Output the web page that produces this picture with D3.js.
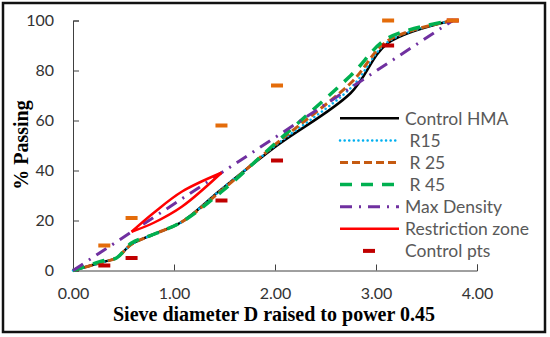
<!DOCTYPE html>
<html>
<head>
<meta charset="utf-8">
<script src="https://cdn.jsdelivr.net/npm/d3@7"></script>
<style>
  body { margin: 0; background: #fff; }
  text { font-family: Lato, "Noto Sans", sans-serif; }
</style>
</head>
<body>
<div id="chart"></div>
<script>
// sieve sizes raised to power 0.45
let sieveX = [0, 0.31, 0.43, 0.58, 0.80, 1.08, 1.47, 2.02, 2.75, 3.12, 3.76]

let controlHMA = [0, 3.5, 5, 10.5, 14.5, 19.5, 32.5, 50, 71, 91, 100]
let r15 = [0, 3.5, 5, 10.5, 14.5, 19.5, 32.5, 50.5, 73, 91.5, 100]
let r25 = [0, 3.5, 5, 10.5, 14.5, 19.5, 32, 51, 75, 92, 100]
let r45 = [0, 4, 5, 11, 14.5, 19.5, 31.5, 51.5, 78, 93, 100]

let maxDensityX = [0, 3.76]
let maxDensity = [0, 100]

let zoneX = [0.58, 0.80, 1.08, 1.47]
let zoneUpper = [15.5, 23.1, 31.6, 39.1]
let zoneLower = [15.5, 19.1, 25.6, 39.1]

let ctrlX = [0.31, 0.58, 1.47, 2.02, 3.12, 3.76]
let ctrlLower = [2, 5, 28, 44, 90, 100]
let ctrlUpper = [10, 21, 58, 74, 100, 100]

let xTicks = [0, 1, 2, 3, 4]
let yTicks = [0, 20, 40, 60, 80, 100]

let legendNames = ["Control HMA", " R15", " R 25", " R 45", "Max Density", "Restriction zone", "Control pts"]

var width = 550, height = 337

var svg = d3.select("#chart")
  .append("svg")
    .attr("width", width)
    .attr("height", height)

// outer frame
svg.append("rect")
  .attr("x", 3).attr("y", 3)
  .attr("width", 542).attr("height", 329)
  .attr("fill", "white")
  .attr("stroke", "#111")
  .attr("stroke-width", 2.5)

var x = d3.scaleLinear().domain([0, 4]).range([73, 477])
var y = d3.scaleLinear().domain([0, 100]).range([270.5, 20.5])

let xAxis = svg.append("g")
  .attr("transform", `translate(0,${y(0)})`)
  .call(d3.axisBottom(x).tickValues(xTicks).tickFormat(d3.format(".2f"))
    .tickSize(-6).tickSizeOuter(-6).tickPadding(17.5))

let yAxis = svg.append("g")
  .attr("transform", `translate(${x(0)},0)`)
  .call(d3.axisLeft(y).tickValues(yTicks).tickSize(-6).tickSizeOuter(-6).tickPadding(19))

svg.selectAll(".domain, .tick line").attr("stroke", "#404040")
svg.selectAll(".tick text")
  .attr("fill", "#333")
  .style("font-size", "16px")
  .style("font-family", "Lato")

// axis titles
svg.append("text")
  .attr("x", 274).attr("y", 321)
  .attr("text-anchor", "middle")
  .style("font-family", "'Liberation Serif', serif")
  .style("font-weight", "bold")
  .style("font-size", "20px")
  .text("Sieve diameter D raised to power 0.45")

svg.append("text")
  .attr("transform", "translate(28,145) rotate(-90)")
  .attr("text-anchor", "middle")
  .style("font-family", "'Liberation Serif', serif")
  .style("font-weight", "bold")
  .style("font-size", "20px")
  .text("% Passing")

let smooth = d3.line()
  .x(d => x(d[0]))
  .y(d => y(d[1]))
  .curve(d3.curveCatmullRom.alpha(0.5))

let zip = (xs, ys) => xs.map((v, i) => [v, ys[i]])

let styles = [
  {color: "#000000", w: 2.5, dash: null, cap: "butt"},
  {color: "#00B0F0", w: 2.5, dash: "0.1 4.5", cap: "round"},
  {color: "#C55A11", w: 3, dash: "8 4", cap: "butt"},
  {color: "#00B050", w: 3.5, dash: "12 9", cap: "butt"},
  {color: "#7030A0", w: 3, dash: "12 7 2 7", cap: "butt"},
  {color: "#FF0000", w: 2.5, dash: null, cap: "butt"}
]

let series = [
  [zip(sieveX, controlHMA)],
  [zip(sieveX, r15)],
  [zip(sieveX, r25)],
  [zip(sieveX, r45)],
  [zip(maxDensityX, maxDensity)],
  [zip(zoneX, zoneUpper), zip(zoneX, zoneLower)]
]

series.forEach((lines, i) => {
  let s = styles[i]
  svg.append("g")
    .selectAll("path")
    .data(lines)
    .join("path")
    .attr("d", smooth)
    .attr("fill", "none")
    .attr("stroke", s.color)
    .attr("stroke-width", s.w)
    .attr("stroke-dasharray", s.dash)
    .attr("stroke-linecap", s.cap)
})

// control points as short horizontal dashes
svg.append("g")
  .selectAll("rect")
  .data(zip(ctrlX, ctrlLower))
  .join("rect")
  .attr("x", d => x(d[0]) - 6)
  .attr("y", d => y(d[1]) - 2)
  .attr("width", 12)
  .attr("height", 4)
  .attr("fill", "#C00000")

svg.append("g")
  .selectAll("rect")
  .data(zip(ctrlX, ctrlUpper))
  .join("rect")
  .attr("x", d => x(d[0]) - 6)
  .attr("y", d => y(d[1]) - 2)
  .attr("width", 12)
  .attr("height", 4)
  .attr("fill", "#E46C0A")

// legend
let legend = svg.append("g")
  .selectAll("g")
  .data(legendNames)
  .join("g")
  .attr("transform", (d, i) => `translate(0,${118.3 + i * 22.1})`)

legend.each(function(d, i) {
  let g = d3.select(this)
  if (i < 6) {
    let s = styles[i]
    g.append("line")
      .attr("x1", 340).attr("x2", 399)
      .attr("stroke", s.color)
      .attr("stroke-width", s.w)
      .attr("stroke-dasharray", s.dash)
      .attr("stroke-linecap", s.cap)
  } else {
    g.append("rect")
      .attr("x", 363).attr("y", -2)
      .attr("width", 12).attr("height", 4)
      .attr("fill", "#C00000")
  }
  g.append("text")
    .attr("x", 405)
    .attr("dy", "0.36em")
    .attr("fill", "#595959")
    .style("font-size", "17.5px")
    .style("white-space", "pre")
    .attr("xml:space", "preserve")
    .text(d)
})
</script>
</body>
</html>
